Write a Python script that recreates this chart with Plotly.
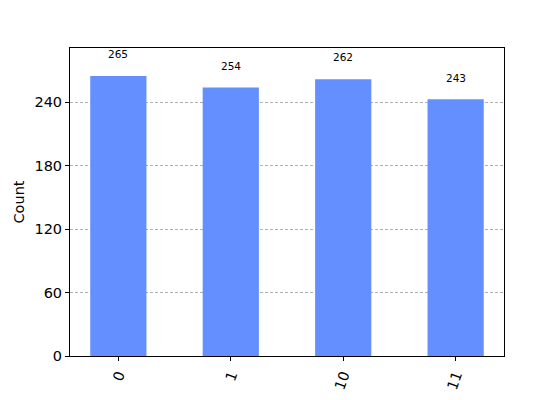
import plotly.graph_objects as go

# measurement outcomes and their counts
states = ["0", "1", "10", "11"]
counts = [265, 254, 262, 243]

bar_color = "#648fff"

fig = go.Figure()
fig.add_trace(go.Bar(x=list(range(len(states))), y=counts, width=0.5,
        marker=dict(color=bar_color, line=dict(width=0)), hoverinfo="x+y"))

# value labels above each bar
for i, c in enumerate(counts):
    fig.add_annotation(x=i, y=c * 1.05, text=str(c), showarrow=False,
            yanchor="bottom", xanchor="center", font=dict(size=10.5, color="black"))

# margins account for the 8px page body offset
fig.update_layout(width=560, height=400, plot_bgcolor="white", paper_bgcolor="white",
        margin=dict(l=62, r=64, t=40, b=52, autoexpand=False), showlegend=False,
        font=dict(family="DejaVu Sans", color="black"))
fig.update_xaxes(tickvals=list(range(len(states))), ticktext=states, tickangle=-70,
        range=[-0.43, 3.43], showline=True, mirror=True, linecolor="black", linewidth=1,
        ticks="outside", ticklen=4, tickcolor="black", tickfont=dict(size=14.5),
        showgrid=False, zeroline=False, automargin=False)
fig.update_yaxes(title_text="Count", title_font=dict(size=14.5), title_standoff=6,
        range=[0, max(counts) * 1.1], tickvals=[0, 60, 120, 180, 240],
        showline=True, mirror=True, linecolor="black", linewidth=1,
        ticks="outside", ticklen=4, tickcolor="black", tickfont=dict(size=14.5),
        showgrid=True, gridcolor="#b0b0b0", gridwidth=0.7, griddash="3px,2px",
        zeroline=False, automargin=False)
fig.write_html("out.html")
